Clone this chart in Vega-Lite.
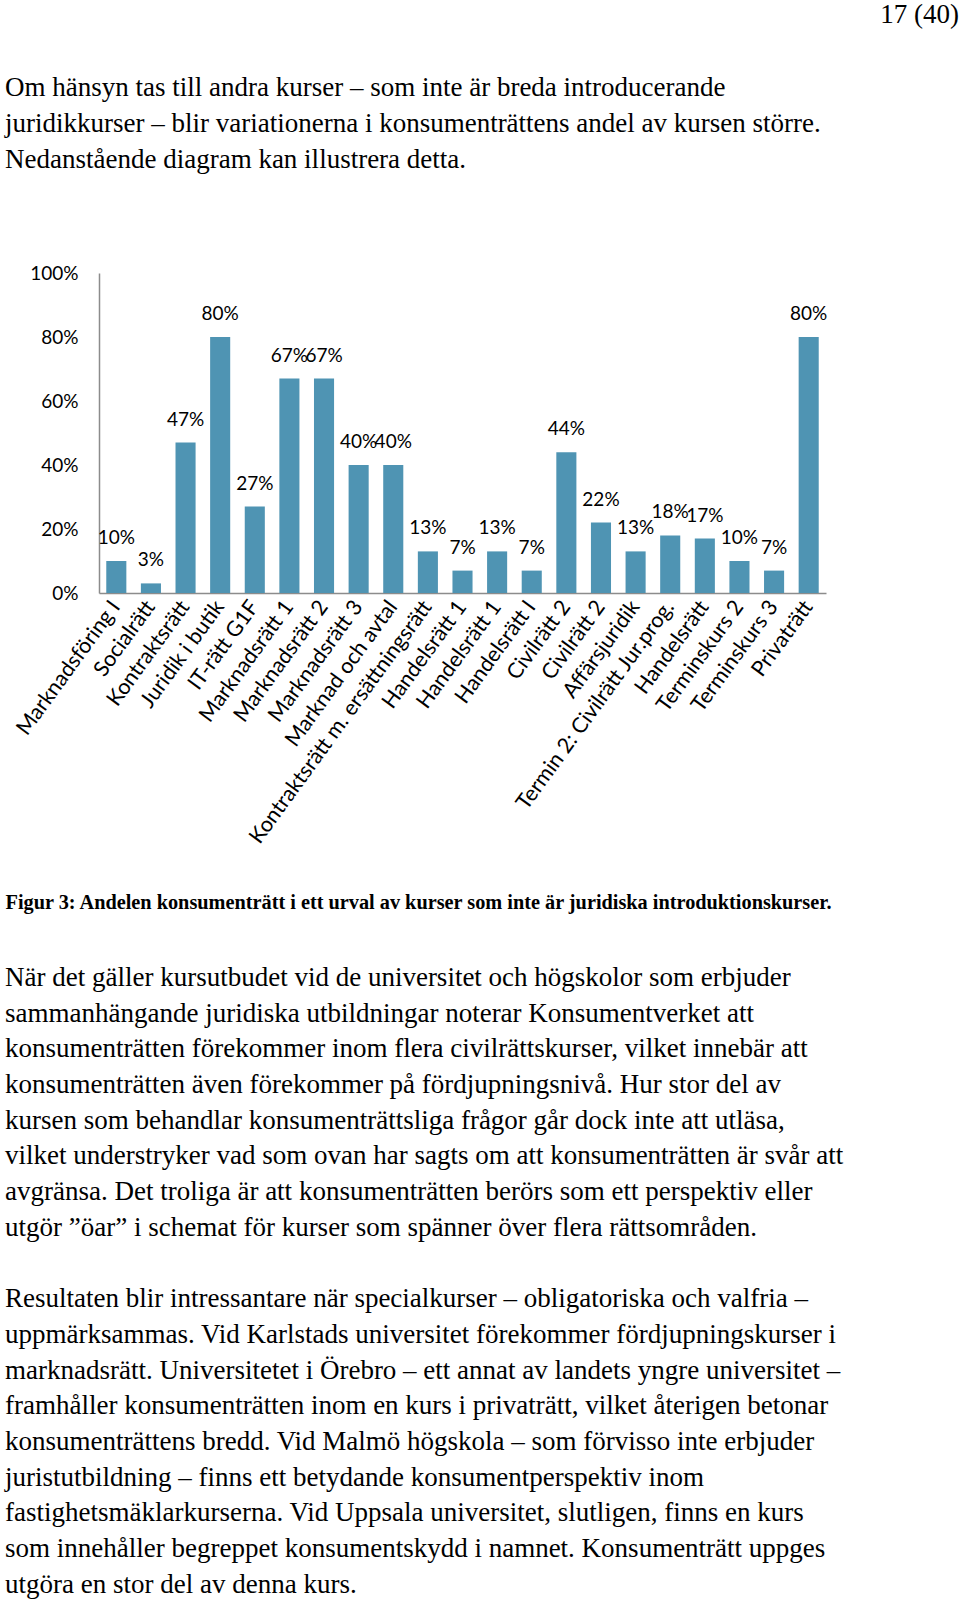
{
  "$schema": "https://vega.github.io/schema/vega-lite/v6.json",
  "background": "white",
  "padding": {"left": 5, "top": 0, "right": 0, "bottom": 0},
  "spacing": 0,
  "config": {"view": {"stroke": null}},
  "vconcat": [
    {
      "width": 860,
      "height": 263.5,
      "data": {"values": [
        {"line": 0, "side": "right", "text": "17 (40)"},
        {"line": 2, "side": "left", "text": "Om hänsyn tas till andra kurser – som inte är breda introducerande"},
        {"line": 3, "side": "left", "text": "juridikkurser – blir variationerna i konsumenträttens andel av kursen större."},
        {"line": 4, "side": "left", "text": "Nedanstående diagram kan illustrera detta."}
      ]},
      "encoding": {
        "y": {"field": "line", "type": "quantitative", "axis": null,
              "scale": {"domain": [0, 7.381], "reverse": true, "nice": false, "zero": false}},
        "text": {"field": "text"}
      },
      "layer": [
        {
          "transform": [{"filter": "datum.side === 'left'"}],
          "mark": {"type": "text", "align": "left", "baseline": "middle", "dy": 16.8, "font": "Liberation Serif", "fontSize": 27, "color": "black"},
          "encoding": {"x": {"value": -94}}
        },
        {
          "transform": [{"filter": "datum.side === 'right'"}],
          "mark": {"type": "text", "align": "right", "baseline": "middle", "dy": 14.8, "font": "Liberation Serif", "fontSize": 27, "color": "black"},
          "encoding": {"x": {"value": "width"}}
        }
      ]
    },
    {
      "width": 727,
      "height": 320,
      "data": {"values": [
        {"kurs": "Marknadsföring I", "andel": 0.10},
        {"kurs": "Socialrätt", "andel": 0.03},
        {"kurs": "Kontraktsrätt", "andel": 0.47},
        {"kurs": "Juridik i butik", "andel": 0.80},
        {"kurs": "IT-rätt G1F", "andel": 0.27},
        {"kurs": "Marknadsrätt 1", "andel": 0.67},
        {"kurs": "Marknadsrätt 2", "andel": 0.67},
        {"kurs": "Marknadsrätt 3", "andel": 0.40},
        {"kurs": "Marknad och avtal", "andel": 0.40},
        {"kurs": "Kontraktsrätt m. ersättningsrätt", "andel": 0.13},
        {"kurs": "Handelsrätt 1", "andel": 0.07},
        {"kurs": "Handelsrätt 1\u200b", "andel": 0.13},
        {"kurs": "Handelsrätt I", "andel": 0.07},
        {"kurs": "Civilrätt 2", "andel": 0.44},
        {"kurs": "Civilrätt 2\u200b", "andel": 0.22},
        {"kurs": "Affärsjuridik", "andel": 0.13},
        {"kurs": "Termin 2: Civilrätt Jur.prog.", "andel": 0.18},
        {"kurs": "Handelsrätt", "andel": 0.17},
        {"kurs": "Terminskurs 2", "andel": 0.10},
        {"kurs": "Terminskurs 3", "andel": 0.07},
        {"kurs": "Privaträtt", "andel": 0.80}
      ]},
      "encoding": {
        "x": {"field": "kurs", "type": "nominal", "sort": null,
              "scale": {"paddingInner": 0.42, "paddingOuter": 0.21},
              "axis": {"title": "Figur 3: Andelen konsumenträtt i ett urval av kurser som inte är juridiska introduktionskurser.",
                       "titleFont": "Liberation Serif", "titleFontSize": 20.3, "titleFontWeight": "bold", "titleColor": "black",
                       "titleAnchor": "start", "titleAlign": "left", "titleX": -94, "titlePadding": 99,
                       "labelAngle": -54, "labelAlign": "right", "labelBaseline": "middle", "labelPadding": 10,
                       "labelFont": "Lato", "labelFontSize": 21.5, "labelColor": "black", "labelLimit": 0,
                       "ticks": false, "domainColor": "#8c8c8c", "domainWidth": 1.5, "grid": false}},
        "y": {"field": "andel", "type": "quantitative",
              "scale": {"domain": [0, 1], "nice": false},
              "axis": {"title": null, "values": [0, 0.2, 0.4, 0.6, 0.8, 1], "format": ".0%",
                       "labelFont": "Lato", "labelFontSize": 19, "labelColor": "black", "labelPadding": 21,
                       "ticks": false, "grid": false, "domainColor": "#8c8c8c", "domainWidth": 1.5}}
      },
      "layer": [
        {"mark": {"type": "bar", "color": "#4f94b3"}},
        {"mark": {"type": "text", "baseline": "middle", "dy": -23, "font": "Lato", "fontSize": 19, "color": "black"},
         "encoding": {"text": {"field": "andel", "format": ".0%"}}}
      ]
    },
    {
      "width": 860,
      "height": 689.7,
      "data": {"values": [
        {"line": 0, "text": "När det gäller kursutbudet vid de universitet och högskolor som erbjuder"},
        {"line": 1, "text": "sammanhängande juridiska utbildningar noterar Konsumentverket att"},
        {"line": 2, "text": "konsumenträtten förekommer inom flera civilrättskurser, vilket innebär att"},
        {"line": 3, "text": "konsumenträtten även förekommer på fördjupningsnivå. Hur stor del av"},
        {"line": 4, "text": "kursen som behandlar konsumenträttsliga frågor går dock inte att utläsa,"},
        {"line": 5, "text": "vilket understryker vad som ovan har sagts om att konsumenträtten är svår att"},
        {"line": 6, "text": "avgränsa. Det troliga är att konsumenträtten berörs som ett perspektiv eller"},
        {"line": 7, "text": "utgör ”öar” i schemat för kurser som spänner över flera rättsområden."},
        {"line": 9, "text": "Resultaten blir intressantare när specialkurser – obligatoriska och valfria –"},
        {"line": 10, "text": "uppmärksammas. Vid Karlstads universitet förekommer fördjupningskurser i"},
        {"line": 11, "text": "marknadsrätt. Universitetet i Örebro – ett annat av landets yngre universitet –"},
        {"line": 12, "text": "framhåller konsumenträtten inom en kurs i privaträtt, vilket återigen betonar"},
        {"line": 13, "text": "konsumenträttens bredd. Vid Malmö högskola – som förvisso inte erbjuder"},
        {"line": 14, "text": "juristutbildning – finns ett betydande konsumentperspektiv inom"},
        {"line": 15, "text": "fastighetsmäklarkurserna. Vid Uppsala universitet, slutligen, finns en kurs"},
        {"line": 16, "text": "som innehåller begreppet konsumentskydd i namnet. Konsumenträtt uppges"},
        {"line": 17, "text": "utgöra en stor del av denna kurs."}
      ]},
      "mark": {"type": "text", "align": "left", "baseline": "middle", "font": "Liberation Serif", "fontSize": 27, "color": "black"},
      "encoding": {
        "x": {"value": -94},
        "y": {"field": "line", "type": "ordinal", "axis": null,
              "scale": {"type": "band", "domain": [0, 1, 2, 3, 4, 5, 6, 7, 8, 9, 10, 11, 12, 13, 14, 15, 16, 17], "paddingInner": 0, "paddingOuter": 0.66, "align": 1}},
        "text": {"field": "text"}
      }
    }
  ]
}
